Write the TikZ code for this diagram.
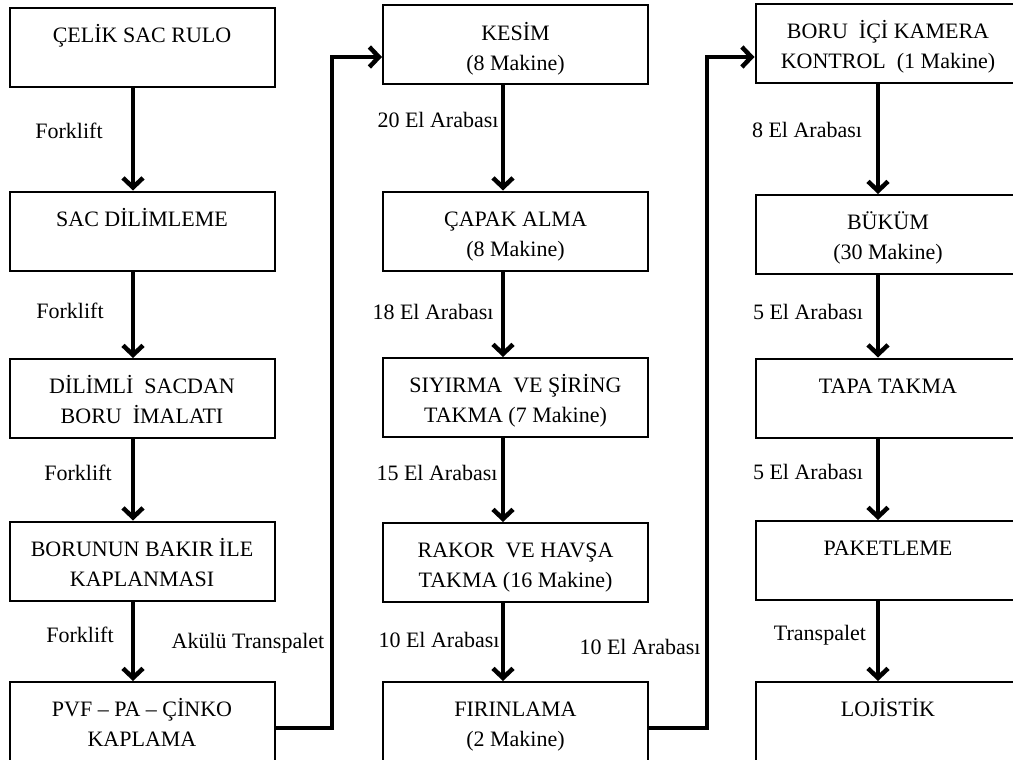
\documentclass[tikz,border=0pt]{standalone}
\usepackage{fontspec}
\setmainfont{Liberation Serif}
\usetikzlibrary{arrows.meta}
\usetikzlibrary{calc}
\newcommand{\topstrut}{\rule{0pt}{26.6pt}}

\begin{document}
\begin{tikzpicture}[x=1pt,y=-1pt]
    \tikzstyle{every node}=[font=\fontsize{22}{30}\selectfont]
    \tikzstyle{stage}=[draw,line width=2pt,minimum width=265pt,minimum height=79pt,align=center,inner sep=0pt,
        execute at end node={\rule[-6pt]{0pt}{0pt}}]
    \tikzstyle{flow}=[line width=4.5pt,-{Straight Barb[length=9.5pt,width=20pt]}]
    \useasboundingbox (0,0) rectangle (1013,760);

    % first column: coil to coating
    \node[stage] (rulo) at (142,47.5) {\topstrut ÇELİK SAC RULO\\~};
    \node[stage, below of=rulo, node distance=183.5pt] (dilim) {\topstrut SAC DİLİMLEME\\~};
    \node[stage, below of=dilim, node distance=167.5pt] (imalat) {\topstrut DİLİMLİ~ SACDAN\\BORU~ İMALATI};
    \node[stage, below of=imalat, node distance=162.5pt] (bakir) {\topstrut BORUNUN BAKIR İLE\\KAPLANMASI};
    \node[stage, below of=bakir, node distance=160.5pt] (pvf) {\topstrut PVF – PA – ÇİNKO\\KAPLAMA};

    \draw[flow] ([xshift=-9pt]rulo.south) -- ([xshift=-9pt]dilim.north);
    \draw[flow] ([xshift=-9pt]dilim.south) -- ([xshift=-9pt]imalat.north);
    \draw[flow] ([xshift=-9pt]imalat.south) -- ([xshift=-9pt]bakir.north);
    \draw[flow] ([xshift=-9pt]bakir.south) -- ([xshift=-9pt]pvf.north);
    \node (fl1) at (69,131) {Forklift};
    \node (fl2) at (70,311) {Forklift};
    \node (fl3) at (78,473) {Forklift};
    \node (fl4) at (80,635) {Forklift};

    % second column: cutting to oven
    \node[stage] (kesim) at (515.5,45) {\topstrut KESİM\\(8 Makine)};
    \node[stage, below of=kesim, node distance=186pt] (capak) {\topstrut ÇAPAK ALMA\\(8 Makine)};
    \node[stage, below of=capak, node distance=166.5pt] (siyirma) {\topstrut SIYIRMA~ VE ŞİRİNG\\TAKMA (7 Makine)};
    \node[stage, below of=siyirma, node distance=165pt] (rakor) {\topstrut RAKOR~ VE HAVŞA\\TAKMA (16 Makine)};
    \node[stage, below of=rakor, node distance=159pt] (firin) {\topstrut FIRINLAMA\\(2 Makine)};

    \draw[flow] ([xshift=-12.5pt]kesim.south) -- ([xshift=-12.5pt]capak.north);
    \draw[flow] ([xshift=-12.5pt]capak.south) -- ([xshift=-12.5pt]siyirma.north);
    \draw[flow] ([xshift=-12.5pt]siyirma.south) -- ([xshift=-12.5pt]rakor.north);
    \draw[flow] ([xshift=-12.5pt]rakor.south) -- ([xshift=-12.5pt]firin.north);
    \node (ea20) at (438,120) {20 El Arabası};
    \node (ea18) at (433,312) {18 El Arabası};
    \node (ea15) at (437,473) {15 El Arabası};
    \node (ea10) at (439,640) {10 El Arabası};

    % third column: camera to logistics
    \node[stage] (kamera) at (888,43.5) {\topstrut BORU~ İÇİ KAMERA\\KONTROL~ (1 Makine)};
    \node[stage, below of=kamera, node distance=191pt] (bukum) {\topstrut BÜKÜM\\(30 Makine)};
    \node[stage, below of=bukum, node distance=163.5pt] (tapa) {\topstrut TAPA TAKMA\\~};
    \node[stage, below of=tapa, node distance=162.5pt] (paket) {\topstrut PAKETLEME\\~};
    \node[stage, below of=paket, node distance=161pt] (lojistik) {\topstrut LOJİSTİK\\~};

    \draw[flow] ([xshift=-10pt]kamera.south) -- ([xshift=-10pt]bukum.north);
    \draw[flow] ([xshift=-10pt]bukum.south) -- ([xshift=-10pt]tapa.north);
    \draw[flow] ([xshift=-10pt]tapa.south) -- ([xshift=-10pt]paket.north);
    \draw[flow] ([xshift=-10pt]paket.south) -- ([xshift=-10pt]lojistik.north);
    \node (ea8) at (807,130) {8 El Arabası};
    \node (ea5a) at (808,312) {5 El Arabası};
    \node (ea5b) at (808,472) {5 El Arabası};
    \node (tp) at (820,635) {Transpalet};

    % links between columns
    \coordinate (pvfout) at ([yshift=-6.5pt]pvf.east);
    \coordinate (kesimin) at ([yshift=-12pt]kesim.west);
    \coordinate (lift1) at (332,0);
    \draw[flow] (pvfout) -- (pvfout -| lift1) |- (kesimin);
    \node (akulu) at (248,643) {Akülü Transpalet};

    \coordinate (firinout) at ([yshift=-6.5pt]firin.east);
    \coordinate (kamerain) at ([yshift=-13.5pt]kamera.west);
    \coordinate (lift2) at (707,0);
    \draw[flow] (firinout) -- (firinout -| lift2) |- (kamerain);
    \node (ea10b) at (640,647) {10 El Arabası};

\end{tikzpicture}
\end{document}
